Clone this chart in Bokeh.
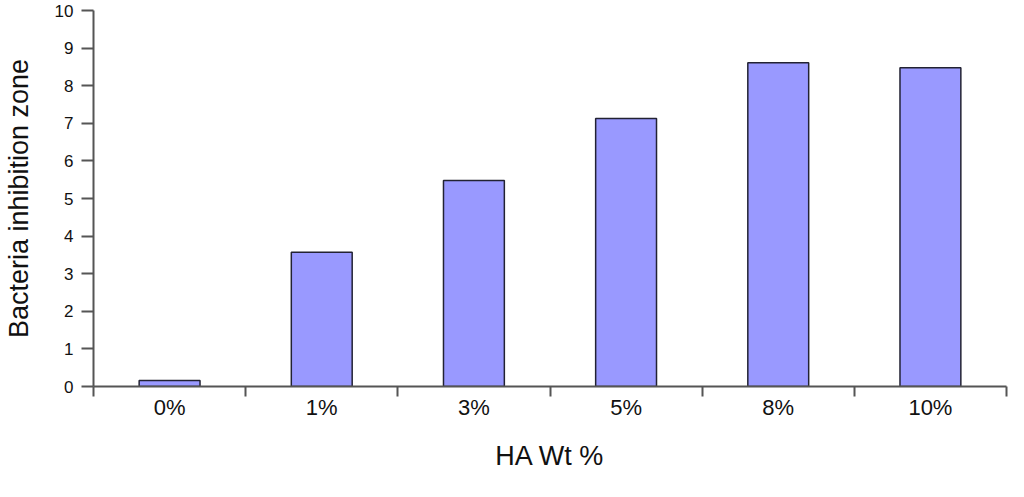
from bokeh.plotting import figure
from bokeh.models import FixedTicker, Range1d, ColumnDataSource
from bokeh.embed import file_html
from bokeh.resources import INLINE

categories = ["0%", "1%", "3%", "5%", "8%", "10%"]
values = [0.16, 3.57, 5.48, 7.13, 8.61, 8.48]
y_ticks = list(range(0, 11))
x_title = "HA Wt %"
y_title = "Bacteria inhibition zone"

centers = [i + 0.5 for i in range(len(categories))]
bounds = list(range(len(categories) + 1))

src = ColumnDataSource(dict(x=centers, top=values, cat=categories))

FONT = "Liberation Sans"
AXC = "#555555"

p = figure(width=1008, height=481, output_backend="svg", toolbar_location=None,
           x_range=Range1d(0, len(categories)), y_range=Range1d(0, 10),
           min_border_left=93, min_border_right=2, min_border_top=10, min_border_bottom=95)
p.outline_line_color = None
p.xgrid.grid_line_color = None
p.ygrid.grid_line_color = None
p.background_fill_color = "white"
p.border_fill_color = "white"

p.vbar(x="x", top="top", bottom=0, width=0.4, source=src,
       fill_color="#9999FF", line_color="#222233", line_width=1.5)

# x axis
xa = p.xaxis[0]
xa.ticker = FixedTicker(ticks=centers, minor_ticks=bounds)
xa.major_label_overrides = {c: lab for c, lab in zip(centers, categories)}
xa.major_tick_out = 0
xa.major_tick_in = 0
xa.minor_tick_out = 10
xa.minor_tick_in = 0
xa.minor_tick_line_color = AXC
xa.minor_tick_line_width = 2
xa.axis_line_color = AXC
xa.axis_line_width = 2
xa.major_label_text_font = FONT
xa.major_label_text_font_size = "22px"
xa.major_label_text_color = "#111111"
xa.major_label_standoff = -2
xa.axis_label = x_title
xa.axis_label_text_font = FONT
xa.axis_label_text_font_size = "27px"
xa.axis_label_text_font_style = "normal"
xa.axis_label_text_color = "#111111"
xa.axis_label_standoff = 18

# y axis
ya = p.yaxis[0]
ya.ticker = FixedTicker(ticks=y_ticks, minor_ticks=[])
ya.major_tick_out = 12
ya.major_tick_in = 0
ya.major_tick_line_color = AXC
ya.major_tick_line_width = 2
ya.axis_line_color = AXC
ya.axis_line_width = 2
ya.major_label_text_font = FONT
ya.major_label_text_font_size = "17px"
ya.major_label_text_color = "#111111"
ya.major_label_standoff = 8
ya.axis_label = y_title
ya.axis_label_text_font = FONT
ya.axis_label_text_font_size = "27px"
ya.axis_label_text_font_style = "normal"
ya.axis_label_text_color = "#111111"
ya.axis_label_standoff = 18

open("out.html", "w").write(file_html(p, INLINE))
